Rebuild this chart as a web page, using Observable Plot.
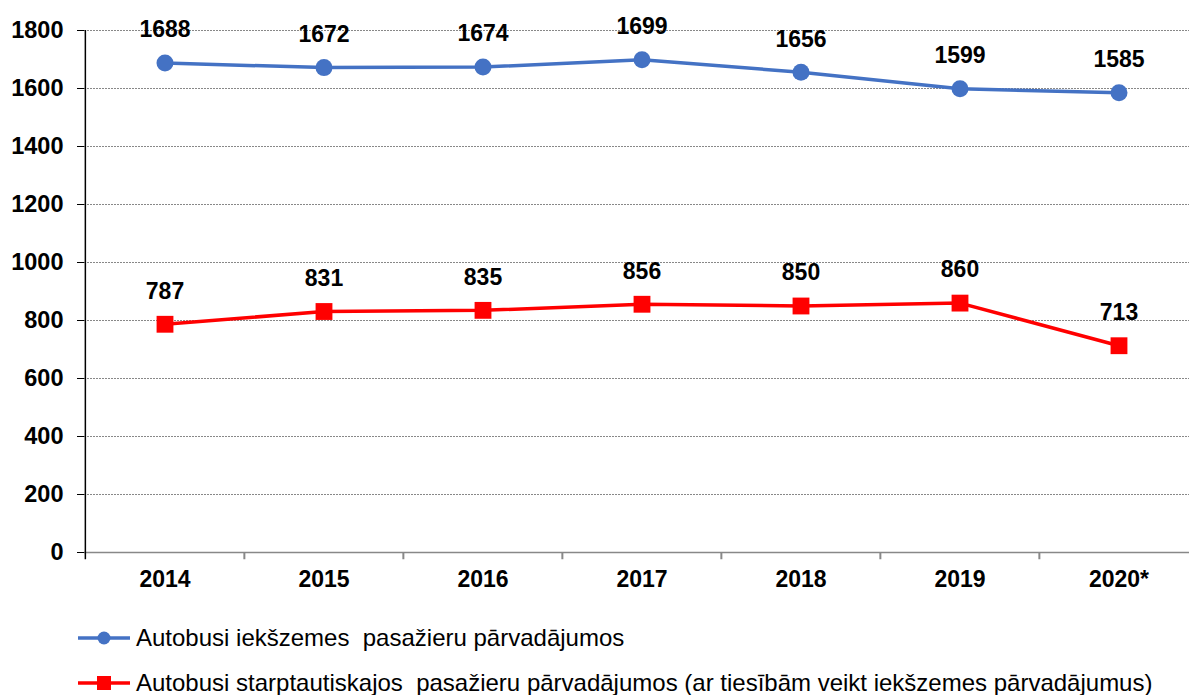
<!DOCTYPE html>
<html>
<head>
<meta charset="utf-8">
<script src="https://cdn.jsdelivr.net/npm/d3@7"></script>
<script src="https://cdn.jsdelivr.net/npm/@observablehq/plot@0.6"></script>
<style>
  body { margin: 0; background: #fff; font-family: "Liberation Sans", Arial, sans-serif; }
  #chart svg { display: block; }
  .legend { position: relative; height: 95px; }
  .item { position: absolute; left: 77px; display: flex; align-items: center; font-size: 24px; color: #000; white-space: pre; }
  .item svg { margin-right: 5px; }
</style>
</head>
<body>
<div id="chart"></div>
<div class="legend" id="legend"></div>
<script>
const years = ["2014", "2015", "2016", "2017", "2018", "2019", "2020*"];
const domestic = [1688, 1672, 1674, 1699, 1656, 1599, 1585];
const international = [787, 831, 835, 856, 850, 860, 713];
const seriesNames = [
  "Autobusi iekšzemes  pasažieru pārvadājumos",
  "Autobusi starptautiskajos  pasažieru pārvadājumos (ar tiesībām veikt iekšzemes pārvadājumus)"
];
const yTicks = [0, 200, 400, 600, 800, 1000, 1200, 1400, 1600, 1800];
const colors = ["#4472C4", "#FF0000"];

const dom = years.map((y, i) => ({year: y, value: domestic[i]}));
const intl = years.map((y, i) => ({year: y, value: international[i]}));

const left = 84, right = 1199;
const bw = (right - left) / years.length;
const font = "Liberation Sans, Arial, sans-serif";

const chart = Plot.plot({
  width: 1189,
  height: 600,
  marginLeft: left,
  marginRight: 0,
  marginTop: 30,
  marginBottom: 48,
  style: {fontFamily: font, background: "#fff", overflow: "visible"},
  x: {type: "band", domain: years, range: [left, right], padding: 0, axis: null},
  y: {domain: [0, 1800], axis: null},
  marks: [
    Plot.ruleY(yTicks.filter(d => d > 0), {stroke: "#888", strokeWidth: 1, strokeDasharray: "2,1"}),
    Plot.ruleY([0], {stroke: "#888", strokeWidth: 1.5}),
    Plot.ruleX(years.slice(1), {x: d => d, dx: -bw / 2, y1: 0, y2: -25, stroke: "#888", strokeWidth: 2}),
    Plot.axisY({ticks: yTicks, tickFormat: d => String(d), label: null, tickSize: 7, tickPadding: 14, fontSize: 23.5, fontWeight: "bold", stroke: "#000", fill: "#000"}),
    Plot.ruleX([0], {x: () => years[0], dx: -bw / 2, y1: -25, y2: 1800, stroke: "#000", strokeWidth: 1.5}),
    Plot.axisX({tickSize: 0, tickPadding: 18, label: null, fontSize: 23, fontWeight: "bold", fill: "#000"}),
    Plot.line(dom, {x: "year", y: "value", stroke: colors[0], strokeWidth: 3.5}),
    Plot.dot(dom, {x: "year", y: "value", r: 8.5, fill: colors[0], stroke: "none"}),
    Plot.text(dom, {x: "year", y: "value", text: d => String(d.value), dy: -33, fontSize: 23, fontWeight: "bold", fill: "#000"}),
    Plot.line(intl, {x: "year", y: "value", stroke: colors[1], strokeWidth: 3.5}),
    Plot.dot(intl, {x: "year", y: "value", symbol: "square", r: 9.5, fill: colors[1], stroke: "none"}),
    Plot.text(intl, {x: "year", y: "value", text: d => String(d.value), dy: -33, fontSize: 23, fontWeight: "bold", fill: "#000"})
  ]
});
document.getElementById("chart").appendChild(chart);

const legend = document.getElementById("legend");
const tops = [38, 83];
seriesNames.forEach((name, i) => {
  const div = document.createElement("div");
  div.className = "item";
  div.style.top = (tops[i] - 15) + "px";
  const marker = i === 0
    ? '<circle cx="27" cy="15" r="6.5" fill="' + colors[0] + '"/>'
    : '<rect x="20" y="8" width="14" height="14" fill="' + colors[1] + '"/>';
  div.innerHTML = '<svg width="54" height="30"><line x1="1" x2="53" y1="15" y2="15" stroke="' + colors[i] + '" stroke-width="3.5"/>' + marker + '</svg>';
  const span = document.createElement("span");
  span.textContent = name;
  div.appendChild(span);
  legend.appendChild(div);
});
</script>
</body>
</html>
